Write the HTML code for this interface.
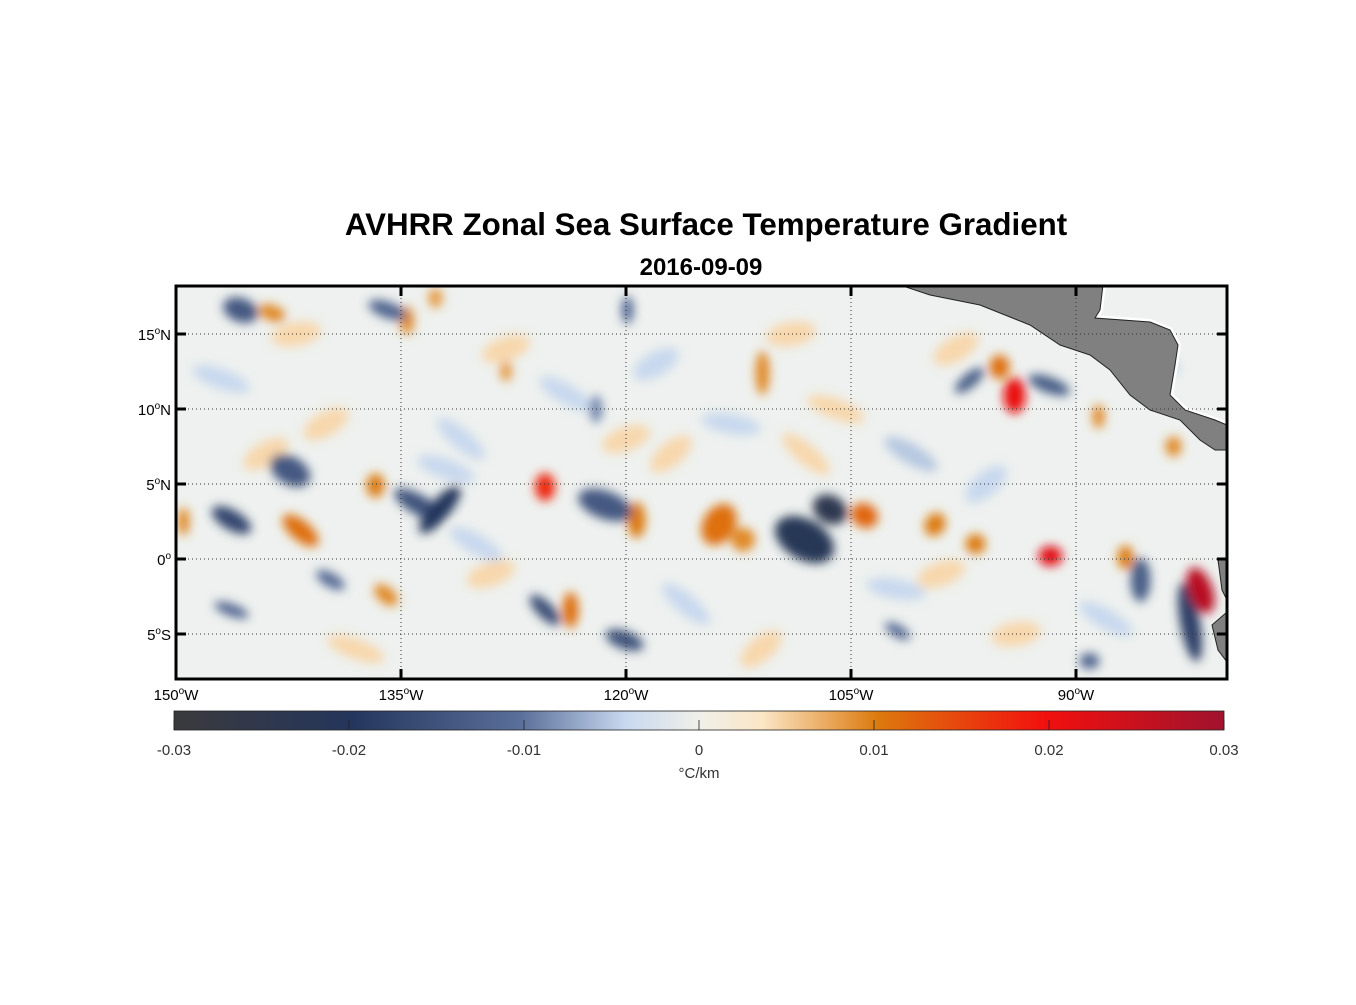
<!DOCTYPE html>
<html><head><meta charset="utf-8">
<style>
body{margin:0;background:#fff;width:1356px;height:1000px;overflow:hidden;font-family:"Liberation Sans",sans-serif}
</style></head>
<body>
<svg id="fig" width="1356" height="1000" xmlns="http://www.w3.org/2000/svg" font-family="Liberation Sans, sans-serif">
<defs>
<filter id="blur" x="-50%" y="-50%" width="200%" height="200%"><feGaussianBlur stdDeviation="5"/></filter>
<clipPath id="mapclip"><rect x="176" y="286" width="1051" height="393"/></clipPath>
<linearGradient id="cbgrad" x1="0" x2="1" y1="0" y2="0">
<stop offset="0" stop-color="#3a3a3c"/>
<stop offset="0.17" stop-color="#24365c"/>
<stop offset="0.33" stop-color="#5a6f9a"/>
<stop offset="0.43" stop-color="#c8d8ee"/>
<stop offset="0.5" stop-color="#f0f0ea"/>
<stop offset="0.56" stop-color="#fbe6c6"/>
<stop offset="0.67" stop-color="#dc7a0e"/>
<stop offset="0.83" stop-color="#f2100e"/>
<stop offset="1" stop-color="#a0122e"/>
</linearGradient>
</defs>
<text x="706" y="235" text-anchor="middle" font-size="31.3" font-weight="bold">AVHRR Zonal Sea Surface Temperature Gradient</text>
<text x="701" y="275" text-anchor="middle" font-size="24" font-weight="bold">2016-09-09</text>
<g clip-path="url(#mapclip)">
<rect x="176" y="286" width="1051" height="393" fill="#eef1ef"/>
<g id="blobs" filter="url(#blur)"></g>
<path fill="none" stroke="#fff" stroke-width="6" d="M1103,285 L1100,310 L1095,318 L1150,322 L1170,330 L1178,345 L1175,365 L1170,395 L1185,410 L1215,420 L1227,425"/>
<path fill="#808080" stroke="#222" stroke-width="1" d="M900,285 L1103,285 L1100,310 L1095,318 L1150,322 L1170,330 L1178,345 L1175,365 L1170,395 L1185,410 L1215,420 L1227,425 L1227,450 L1215,450 L1200,440 L1180,420 L1150,410 L1130,395 L1110,370 L1090,355 L1060,345 L1030,325 L980,305 L930,295 Z"/>
<path fill="#808080" stroke="#222" d="M1218,560 L1227,558 L1227,600 L1222,590 Z M1212,625 L1227,612 L1227,662 L1218,650 Z"/>
<g id="grid" stroke="#333" stroke-width="1" stroke-dasharray="1,3"></g>
</g>
<rect x="176" y="286" width="1051" height="393" fill="none" stroke="#000" stroke-width="3"/>
<g id="axes" font-size="15"></g>
<rect x="174" y="711" width="1050" height="19" fill="url(#cbgrad)" stroke="#222" stroke-width="0.8"/>
<g id="cbaxis" font-size="15" fill="#333"></g>
<text x="699" y="778" text-anchor="middle" font-size="15" fill="#333">°C/km</text>
</svg>
<script>
const NS="http://www.w3.org/2000/svg";
// data: blob lon (deg E), lat, gradient value (°C/km)
const blobLon=[-146.3,-142.4,-141.7,-145.7,-143.6,-136.7,-132.4,-133.8,-125.4,-121.4,-119.3,-113.8,-112.2,-108.1,-106.4,-104.1,-99.4,-96.7,-91.7,-94.1,-95.1,-97.1,-91.8,-81.7,-82.4,-85.7,-86.7,-125.4,-123.7,-120.1,-139.7,-136.0,-146.3,-110.9,-135.9,-134.6,-119.9,-132.7,-101.9,-89.1,-122.0,-128.0,-88.5,-83.5,-149.5,
 -147,-140,-131,-128,-124,-117,-113,-109,-101,-98,-138,-129,-116,-111,-102,-94,-88,-144,-132,-120,-108,-96,-85,-142,-130,-118,-106,-99];
const blobLat=[2.6,5.9,1.9,16.6,16.4,4.9,3.3,3.6,4.8,3.6,2.6,2.3,1.3,1.3,3.3,2.9,2.3,1.0,0.2,10.9,12.8,11.9,11.6,-2.1,-4.2,-1.4,0.1,-3.4,-3.4,-5.4,-1.4,-2.4,-3.4,12.4,16.6,15.9,16.6,17.4,-4.8,-6.8,10.0,12.5,9.5,7.5,2.5,
 12,9,8,14,11,7,9,15,7,14,-6,-1,-3,-6,-2,-5,-4,7,6,8,7,5,13,15,1,13,10,-1];
const blobVal=[-0.017,-0.014,0.011,-0.014,0.009,0.010,-0.02,-0.015,0.018,-0.014,0.010,0.011,0.009,-0.022,-0.024,0.012,0.010,0.010,0.022,0.021,0.011,-0.013,-0.013,0.027,-0.018,-0.013,0.010,-0.016,0.011,-0.015,-0.011,0.009,-0.012,0.009,-0.012,0.009,-0.011,0.008,-0.011,-0.012,-0.009,0.008,0.009,0.009,0.009,
 -0.004,0.004,-0.004,0.004,-0.004,0.004,-0.004,0.004,-0.005,0.004,0.004,0.004,-0.004,0.004,-0.004,0.004,-0.004,0.004,-0.004,0.004,0.004,-0.004,-0.004,0.004,-0.004,-0.004,0.004,0.004];
const blobRx=[22,14,22,12,8,9,30,10,10,14,9,16,12,20,14,14,10,10,12,11,10,18,8,12,10,10,8,20,8,9,16,8,18,7,8,7,6,7,14,10,6,6,6,8,6,
 30,25,30,25,30,25,30,25,30,25,30,25,30,25,30,25,30,25,30,25,30,25,30,25,30,25,30,25];
const blobRy=[10,22,10,18,14,12,10,28,14,28,18,22,12,32,18,12,12,10,10,18,12,7,22,24,40,22,12,8,18,20,7,14,6,22,20,14,14,10,6,8,14,10,12,10,14,
 10,12,10,12,10,12,10,12,10,12,10,12,10,12,10,12,10,12,10,12,10,12,10,12,10,12,10,12];
const blobRot=[30,-60,40,-70,-70,0,-50,-60,0,-70,0,30,30,-60,-60,30,30,30,0,0,0,-40,-70,-20,-10,0,0,45,0,-70,30,-50,20,0,-70,0,0,0,30,0,0,0,0,0,0,
 20,-30,40,-20,30,-40,10,-10,30,-30,20,-20,40,-40,10,-10,30,-30,20,-20,40,-40,10,-10,30,-30,20,-20];
const lonTicks=[-150,-135,-120,-105,-90];
const latTicks=[-5,0,5,10,15];
const cbTicks=[-0.03,-0.02,-0.01,0,0.01,0.02,0.03];
const cbLabels=["-0.03","-0.02","-0.01","0","0.01","0.02","0.03"];
const xS=lon=>176+(lon+150)*15.0;
const yS=lat=>559-lat*15.0;
const cS=v=>699+v*17500;
const cmapV=[-0.03,-0.02,-0.01,-0.004,0,0.003,0.01,0.02,0.03];
const cmapC=[[58,58,60],[36,54,92],[90,111,154],[200,216,238],[240,240,234],[251,230,198],[220,122,14],[242,16,14],[160,18,46]];
function col(v){v=Math.max(-0.03,Math.min(0.03,v));for(let i=0;i<cmapV.length-1;i++){if(v<=cmapV[i+1]){const t=(v-cmapV[i])/(cmapV[i+1]-cmapV[i]);const a=cmapC[i],b=cmapC[i+1];return `rgb(${a.map((x,k)=>Math.round(x+(b[k]-x)*t)).join(',')})`;}}return 'rgb(160,18,46)';}
const bg=document.getElementById('blobs');
const order=[...blobLon.keys()].sort((a,b)=>Math.abs(blobVal[a])-Math.abs(blobVal[b]));
for(const i of order){
 const e=document.createElementNS(NS,'ellipse');
 const cx=xS(blobLon[i]),cy=yS(blobLat[i]);
 e.setAttribute('cx',cx);e.setAttribute('cy',cy);e.setAttribute('rx',blobRx[i]);e.setAttribute('ry',blobRy[i]);
 e.setAttribute('transform',`rotate(${blobRot[i]} ${cx} ${cy})`);
 e.setAttribute('fill',col(blobVal[i]));
 
 
 bg.appendChild(e);
}
const grid=document.getElementById('grid'),ax=document.getElementById('axes');
function mk(tag,attrs,parent,text){const e=document.createElementNS(NS,tag);for(const k in attrs)e.setAttribute(k,attrs[k]);if(text!==undefined)e.textContent=text;parent.appendChild(e);return e;}
lonTicks.forEach(l=>{const x=xS(l);
 const g=mk('line',{x1:x,x2:x,y1:286,y2:679},grid);
 
 
 mk('line',{x1:x,x2:x,y1:286,y2:296,stroke:'#000','stroke-width':3},ax);
 mk('line',{x1:x,x2:x,y1:669,y2:679,stroke:'#000','stroke-width':3},ax);
 const t=mk('text',{x:x,y:700,'text-anchor':'middle'},ax);
 
 
 t.innerHTML=`${-l}<tspan dy="-6" font-size="10">o</tspan><tspan dy="6">W</tspan>`;
});
latTicks.forEach(l=>{const y=yS(l);
 const g=mk('line',{x1:176,x2:1227,y1:y,y2:y},grid);
 
 
 mk('line',{x1:176,x2:186,y1:y,y2:y,stroke:'#000','stroke-width':3},ax);
 mk('line',{x1:1217,x2:1227,y1:y,y2:y,stroke:'#000','stroke-width':3},ax);
 const t=mk('text',{x:171,y:y+6,'text-anchor':'end'},ax);
 
 
 const h=l>0?'N':(l<0?'S':'');
 t.innerHTML=`${Math.abs(l)}<tspan dy="-6" font-size="10">o</tspan><tspan dy="6">${h}</tspan>`;
});
const cb=document.getElementById('cbaxis');
cbTicks.forEach((v,i)=>{const x=cS(v);
 mk('line',{x1:x,x2:x,y1:720,y2:730,stroke:'#222','stroke-width':0.8},cb);
 const t=mk('text',{x:x,y:755,'text-anchor':'middle'},cb,cbLabels[i]);
 
 
});
</script>
</body></html>
